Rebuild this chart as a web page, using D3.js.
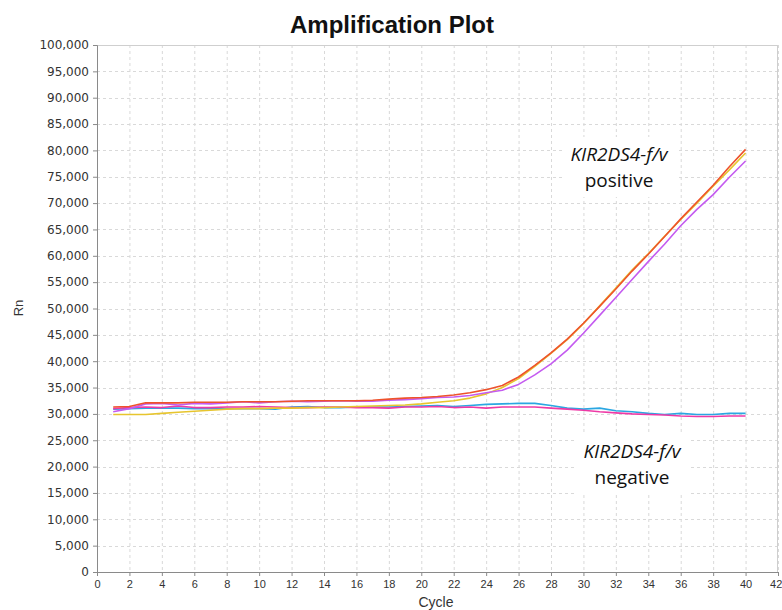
<!DOCTYPE html>
<html>
<head>
<meta charset="utf-8">
<script src="https://cdn.jsdelivr.net/npm/d3@7"></script>
<style>
  body { margin: 0; background: #fff; }
  svg { display: block; }
</style>
</head>
<body>
<svg id="chart" width="782" height="610"></svg>
<script>
// cycles 1..40
const cycles = d3.range(1, 41);

// positive samples
const redVals = [31300, 31400, 32100, 32100, 32100, 32200, 32200, 32200, 32300, 32300,
  32300, 32400, 32500, 32500, 32500, 32500, 32600, 32800, 33000, 33100,
  33300, 33600, 34000, 34600, 35400, 37000, 39200, 41600, 44200, 47200,
  50400, 53700, 57100, 60300, 63600, 67000, 70200, 73400, 76900, 80200];
const yellowVals = [29900, 29900, 29900, 30100, 30300, 30500, 30700, 30900, 31000, 31000,
  31100, 31100, 31200, 31200, 31300, 31400, 31500, 31600, 31700, 31900,
  32200, 32500, 33000, 33800, 35000, 36700, 39000, 41500, 44100, 47100,
  50500, 53900, 57300, 60400, 63700, 66900, 70000, 73200, 76300, 79500];
const purpleVals = [30400, 31000, 31900, 32000, 31700, 32000, 31900, 32100, 32300, 32100,
  32300, 32400, 32300, 32400, 32500, 32400, 32400, 32600, 32700, 32900,
  33100, 33200, 33500, 34000, 34500, 35600, 37400, 39500, 42100, 45300,
  48700, 52100, 55500, 58900, 62200, 65700, 68800, 71600, 74900, 78000];

// negative samples
const blueVals = [30900, 31000, 31100, 31100, 31100, 31000, 31000, 31000, 31000, 31000,
  30900, 31300, 31400, 31200, 31200, 31300, 31300, 31300, 31400, 31500,
  31600, 31400, 31600, 31800, 31900, 32000, 32000, 31600, 31100, 30900,
  31100, 30600, 30400, 30100, 29900, 30100, 29900, 29900, 30100, 30100];
const pinkVals = [31000, 31200, 31300, 31200, 31500, 31200, 31200, 31300, 31300, 31400,
  31300, 31200, 31200, 31300, 31300, 31200, 31200, 31100, 31300, 31300,
  31400, 31200, 31300, 31100, 31300, 31300, 31300, 31100, 30900, 30700,
  30400, 30200, 30000, 29900, 29800, 29600, 29500, 29500, 29600, 29600];

const series = [
  { name: "blue", color: "#2ba7e2", values: blueVals },
  { name: "pink", color: "#ee3aa6", values: pinkVals },
  { name: "yellow", color: "#e7c52e", values: yellowVals },
  { name: "purple", color: "#c45bf0", values: purpleVals },
  { name: "red", color: "#ee522c", values: redVals }
];

const xTicks = d3.range(0, 43, 2);
const yTicks = d3.range(0, 100001, 5000);

const svg = d3.select("#chart");
const plotL = 97, plotR = 778, plotT = 45, plotB = 572;

const x = d3.scaleLinear().domain([0, 42]).range([plotL, plotR]);
const y = d3.scaleLinear().domain([0, 100000]).range([plotB, plotT]);

// grid
const grid = svg.append("g").attr("stroke", "#d9d9d9").attr("stroke-dasharray", "3,3");
grid.selectAll(".vx").data(xTicks.slice(1)).enter().append("line")
  .attr("x1", d => x(d) + 0.5).attr("x2", d => x(d) + 0.5)
  .attr("y1", plotT).attr("y2", plotB);
grid.selectAll(".hy").data(yTicks.slice(1)).enter().append("line")
  .attr("x1", plotL).attr("x2", plotR)
  .attr("y1", d => Math.round(y(d)) + 0.5).attr("y2", d => Math.round(y(d)) + 0.5);

// frame top/right
svg.append("path")
  .attr("d", `M${plotL},${plotT + 0.5}H${plotR - 0.5}V${plotB}`)
  .attr("fill", "none").attr("stroke", "#cfcfcf");

// axes
const yAxis = svg.append("g")
  .attr("transform", `translate(${plotL},0)`)
  .call(d3.axisLeft(y).tickValues(yTicks).tickFormat(d3.format(",")).tickSize(4).tickPadding(4));
const xAxis = svg.append("g")
  .attr("transform", `translate(0,${plotB})`)
  .call(d3.axisBottom(x).tickValues(xTicks).tickFormat(d3.format("d")).tickSize(4).tickPadding(4));
[yAxis, xAxis].forEach(a => {
  a.select(".domain").attr("stroke", "#8a8a8a");
  a.selectAll(".tick line").attr("stroke", "#8a8a8a");
});
yAxis.selectAll("text").attr("font-family", "DejaVu Sans, sans-serif").attr("font-size", 12).attr("fill", "#333");
xAxis.selectAll("text").attr("font-family", "Liberation Sans, Arial, sans-serif").attr("font-size", 11).attr("fill", "#333");
// last label sits at the window edge; keep it inside
xAxis.selectAll(".tick").filter(d => d === 42).select("text").attr("text-anchor", "end").attr("dx", "0.35em");

// lines
const line = d3.line().x((d, i) => x(cycles[i])).y(d => y(d));
svg.append("g").selectAll("path").data(series).enter().append("path")
  .attr("d", s => line(s.values))
  .attr("fill", "none")
  .attr("stroke", s => s.color)
  .attr("stroke-width", 1.6)
  .attr("stroke-linejoin", "round");

// title and axis labels
svg.append("text")
  .attr("x", 392).attr("y", 33)
  .attr("text-anchor", "middle")
  .attr("font-family", "Liberation Sans, Arial, sans-serif")
  .attr("font-weight", "bold").attr("font-size", 24)
  .attr("fill", "#111")
  .text("Amplification Plot");

svg.append("text")
  .attr("transform", "translate(23,308) rotate(-90)")
  .attr("text-anchor", "middle")
  .attr("font-family", "Liberation Sans, Arial, sans-serif")
  .attr("font-size", 13).attr("fill", "#333")
  .text("Rn");

svg.append("text")
  .attr("x", 436).attr("y", 607)
  .attr("text-anchor", "middle")
  .attr("font-family", "Liberation Sans, Arial, sans-serif")
  .attr("font-size", 14).attr("fill", "#333")
  .text("Cycle");

// annotations with white boxes
function note(cx, y1, status) {
  const g = svg.append("g");
  const box = g.append("rect").attr("fill", "#fff");
  const t = g.append("text")
    .attr("text-anchor", "middle")
    .attr("font-family", "Open Sans, Noto Sans, sans-serif")
    .attr("font-size", 19).attr("fill", "#111");
  t.append("tspan").attr("x", cx).attr("y", y1).attr("font-style", "italic").text("KIR2DS4-f/v");
  t.append("tspan").attr("x", cx).attr("y", y1 + 26).text(status);
  const b = t.node().getBBox();
  box.attr("x", b.x - 8).attr("y", b.y - 4).attr("width", b.width + 16).attr("height", b.height + 8);
}
note(619, 161, "positive");
note(632, 458, "negative");
</script>
</body>
</html>
